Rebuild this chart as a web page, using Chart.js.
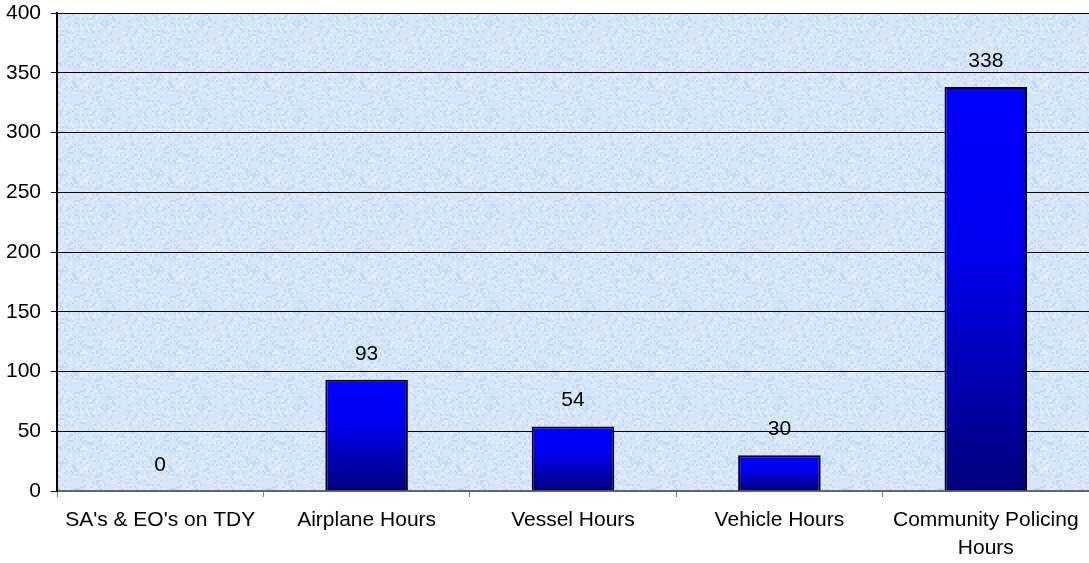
<!DOCTYPE html>
<html>
<head>
<meta charset="utf-8">
<script src="https://cdn.jsdelivr.net/npm/chart.js@4/dist/chart.umd.min.js"></script>
<style>
  html, body { margin: 0; padding: 0; background: #fff; }
  #wrap { width: 1089px; height: 563px; }
</style>
</head>
<body>
<div id="wrap"><canvas id="chart" width="1089" height="563"></canvas></div>
<script>
const categories = ["SA's & EO's on TDY", 'Airplane Hours', 'Vessel Hours', 'Vehicle Hours', ['Community Policing', 'Hours']];
const hours = [0, 93, 54, 30, 338];
const yTicks = [0, 50, 100, 150, 200, 250, 300, 350, 400];

// light mottled blue paper look behind the plot
function makeTexture() {
    const c = document.createElement('canvas');
    c.width = 96; c.height = 96;
    const g = c.getContext('2d');
    g.fillStyle = '#d4e4f9';
    g.fillRect(0, 0, 96, 96);
    for (let y = 0; y < 96; y += 2) {
        for (let x = 0; x < 96; x += 2) {
            const h = Math.sin(x * 12.9898 + y * 78.233) * 43758.5453;
            const f = h - Math.floor(h);
            if (f > 0.6) {
                g.fillStyle = 'rgba(255,255,255,' + ((f - 0.6) * 1.1).toFixed(2) + ')';
                g.fillRect(x, y, 2, 2);
            } else if (f < 0.15) {
                g.fillStyle = 'rgba(165,198,240,0.35)';
                g.fillRect(x, y, 2, 2);
            }
        }
    }
    return c;
}
const texture = makeTexture();

const plotBackground = {
    id: 'plotBackground',
    beforeDraw(chart) {
        const { ctx, chartArea: a } = chart;
        ctx.save();
        ctx.fillStyle = ctx.createPattern(texture, 'repeat');
        ctx.fillRect(a.left, a.top, a.right - a.left, a.bottom - a.top);
        ctx.restore();
    }
};

const valueLabels = {
    id: 'valueLabels',
    afterDatasetsDraw(chart) {
        const { ctx } = chart;
        const meta = chart.getDatasetMeta(0);
        ctx.save();
        ctx.font = '21px "Liberation Sans", Arial, sans-serif';
        ctx.fillStyle = '#000';
        ctx.textAlign = 'center';
        ctx.textBaseline = 'middle';
        meta.data.forEach((bar, i) => {
            ctx.fillText(String(hours[i]), bar.x, bar.y - 26);
        });
        ctx.restore();
    }
};

function barGradient(context) {
    const chart = context.chart;
    const area = chart.chartArea;
    if (!area) return '#0000ff';
    const v = context.parsed ? context.parsed.y : 0;
    const yScale = chart.scales.y;
    const top = yScale.getPixelForValue(v);
    const bottom = yScale.getPixelForValue(0);
    if (bottom - top < 1) return '#0000ff';
    const g = chart.ctx.createLinearGradient(0, top, 0, bottom);
    g.addColorStop(0, '#0000ff');
    g.addColorStop(0.4, '#0000f0');
    g.addColorStop(1, '#00007a');
    return g;
}

const ctx = document.getElementById('chart').getContext('2d');
const chart = new Chart(ctx, {
    type: 'bar',
    data: {
        labels: categories,
        datasets: [{
            data: hours,
            backgroundColor: barGradient,
            borderColor: '#000',
            borderWidth: 2,
            barPercentage: 0.4,
            categoryPercentage: 1.0
        }]
    },
    options: {
        responsive: false,
        animation: false,
        layout: { padding: 0 },
        plugins: {
            legend: { display: false },
            tooltip: { enabled: false }
        },
        scales: {
            x: {
                grid: {
                    offset: true,
                    drawOnChartArea: false,
                    color: '#808080',
                    tickLength: 6,
                    lineWidth: 1
                },
                border: { color: '#666', width: 2 },
                ticks: {
                    color: '#000',
                    padding: 10,
                    maxRotation: 0,
                    autoSkip: false,
                    font: { family: '"Liberation Sans", Arial, sans-serif', size: 21, lineHeight: 1.3 }
                },
                afterFit(scale) {
                    scale.height = 72;
                    scale.paddingLeft = 0;
                    scale.paddingRight = 0;
                }
            },
            y: {
                min: 0,
                max: 400,
                afterBuildTicks(scale) { scale.ticks = yTicks.map(v => ({ value: v })); },
                grid: { color: '#000', lineWidth: 1, tickLength: 6 },
                border: { color: '#000', width: 2 },
                ticks: {
                    color: '#000',
                    padding: 10,
                    font: { family: '"Liberation Sans", Arial, sans-serif', size: 21, lineHeight: 1.2 }
                },
                afterFit(scale) {
                    scale.width = 57;
                    scale.paddingTop = 13;
                    scale.paddingBottom = 0;
                }
            }
        }
    },
    plugins: [plotBackground, valueLabels]
});
</script>
</body>
</html>
